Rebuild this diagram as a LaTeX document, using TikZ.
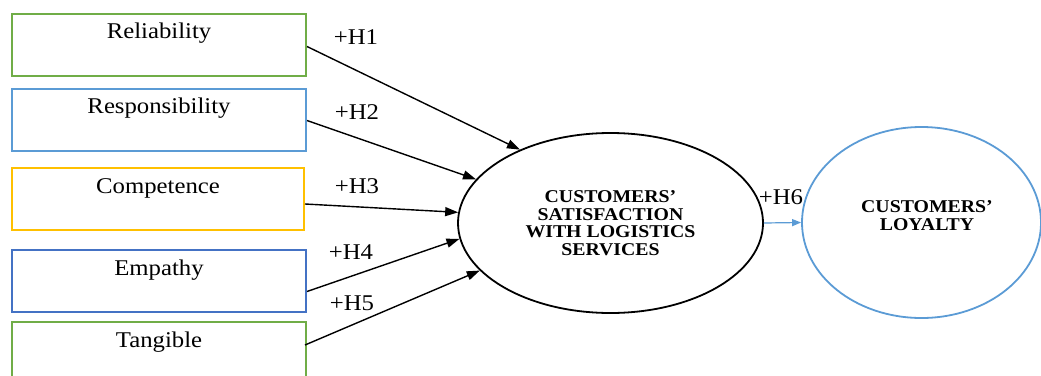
\documentclass[tikz,border=0pt]{standalone}
\usepackage{fontspec}
\setmainfont{Liberation Serif}[FakeStretch=1.1]
\usetikzlibrary{shapes.geometric,arrows.meta}
\definecolor{cgreen}{HTML}{70AD47}
\definecolor{clblue}{HTML}{5B9BD5}
\definecolor{cyellow}{HTML}{FFC000}
\definecolor{cblue}{HTML}{4472C4}
\tikzset{
  factor/.style={draw, line width=2pt, minimum width=294pt, minimum height=62pt, inner sep=0pt, anchor=north west},
  factortext/.style={font=\fontsize{22.5}{24}\selectfont, anchor=base, inner sep=0pt},
  hyp/.style={font=\fontsize{22.5}{24}\selectfont, inner sep=0pt},
  construct/.style={ellipse, draw, line width=1.8pt, inner sep=0pt, align=center,
    font=\fontsize{18}{17.5}\selectfont\bfseries},
  constructtext/.style={inner sep=0pt, align=center, font=\fontsize{18}{18}\selectfont\bfseries},
  link/.style={line width=1.4pt, -{Triangle[length=13pt,width=9pt]}},
}
\begin{document}
\begin{tikzpicture}[x=1pt,y=-1pt]
\useasboundingbox (0,0) rectangle (1041,375);
\clip (0,0) rectangle (1041,375);

% service quality dimensions
\node[factor, draw=cgreen]  (rel) at (11,12.5) {};
\node[factor, draw=clblue]  (res) at (11,87.5) {};
\node[factor, draw=cyellow, minimum width=292pt] (com) at (11,167) {};
\node[factor, draw=cblue]   (emp) at (11,248.5) {};
\node[factor, draw=cgreen]  (tan) at (11,321) {};

\node[factortext] (relT) at ([yshift=-26pt]rel.north) {Reliability};
\node[factortext] (resT) at ([yshift=-26pt]res.north) {Responsibility};
\node[factortext] (comT) at ([yshift=-26pt]com.north) {Competence};
\node[factortext] (empT) at ([yshift=-26.5pt]emp.north) {Empathy};
\node[factortext] (tanT) at ([yshift=-26.5pt]tan.north) {Tangible};

% latent constructs
\node[construct, minimum width=305pt, minimum height=180pt] (sat) at (610.5,223)
  {CUSTOMERS’\\SATISFACTION\\WITH LOGISTICS\\SERVICES};
\node[construct, draw=clblue, minimum width=239pt, minimum height=191pt] (loy) at (921.5,222.5) {};
\node[constructtext] (loyT) at (927,216) {CUSTOMERS’\\LOYALTY};

% start points on the right edges of the boxes
\coordinate (s1) at ([yshift=-2pt]rel.east);
\coordinate (s2) at ([yshift=-1pt]res.east);
\coordinate (s3) at ([yshift=-5pt]com.east);
\coordinate (s4) at ([yshift=-11pt]emp.east);
\coordinate (s5) at (305,345);

\draw[link] (s1) -- (sat.141);
\draw[link] (s2) -- (sat.162);
\draw[link] (s3) -- (sat.176);
\draw[link] (s4) -- (sat.186);
\draw[link] (s5) -- (sat.200);
\draw[line width=1.2pt, draw=clblue, -{Triangle[length=9pt,width=7pt]}, fill=clblue] (sat.east) -- (loy.west);

% hypothesis labels
\node[hyp] (h1) at (356,37) {+H1};
\node[hyp] (h2) at (357,112) {+H2};
\node[hyp] (h3) at (357,186) {+H3};
\node[hyp] (h4) at (351,252) {+H4};
\node[hyp] (h5) at (352,303) {+H5};
\node[hyp] (h6) at (781,197) {+H6};
\end{tikzpicture}
\end{document}
